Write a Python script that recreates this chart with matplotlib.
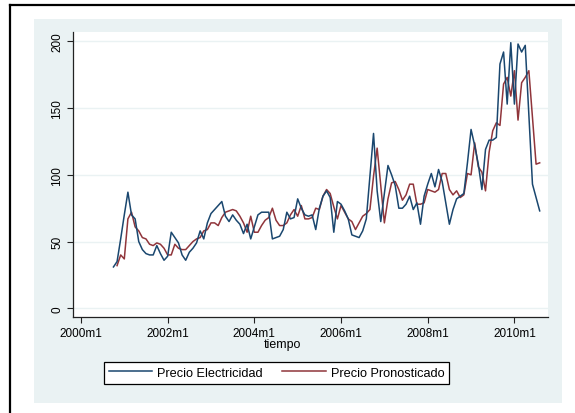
import numpy as np
import pandas as pd
import matplotlib
matplotlib.use("Agg")
import matplotlib.pyplot as plt
from matplotlib.lines import Line2D
from matplotlib.patches import Rectangle

plt.rcParams['font.family'] = ['Liberation Sans', 'DejaVu Sans']

# datos mensuales 2000m10 - 2010m8
inicio = '2000-10'
fin = '2010-08'

precio = [
    31, 35, 52,                                              # 2000
    70, 87, 70, 67, 50, 44, 41, 40, 40, 47, 41, 36,          # 2001
    39, 57, 53, 49, 40, 36, 42, 45, 49, 58, 52, 64,          # 2002
    71, 74, 77, 80, 69, 65, 70, 66, 63, 56, 63, 52,          # 2003
    61, 70, 72, 72, 72, 52, 53, 54, 59, 72, 67, 68,          # 2004
    82, 75, 70, 69, 70, 59, 75, 84, 88, 83, 57, 80,          # 2005
    78, 73, 67, 55, 54, 53, 58, 67, 99, 131, 88, 65,         # 2006
    86, 107, 100, 92, 75, 75, 78, 84, 74, 79, 63, 84,        # 2007
    93, 101, 91, 104, 95, 79, 63, 74, 82, 84, 86, 109,       # 2008
    134, 122, 108, 89, 119, 126, 126, 128, 183, 192, 153, 199,  # 2009
    153, 198, 192, 197, 145, 93, 83, 73,                     # 2010
]

pronostico = [
    np.nan, 32, 40,
    37, 67, 72, 61, 58, 53, 52, 48, 47, 49, 48, 45,
    40, 40, 48, 45, 44, 44, 47, 50, 52, 53, 58, 59,
    64, 64, 62, 68, 72, 73, 74, 73, 69, 64, 57, 69,
    57, 57, 62, 66, 68, 75, 66, 62, 62, 64, 70, 74,
    69, 77, 67, 67, 68, 75, 74, 84, 89, 86, 76, 67,
    77, 72, 67, 65, 59, 64, 69, 71, 74, 99, 120, 92,
    64, 82, 94, 95, 89, 81, 85, 93, 93, 78, 78, 79,
    89, 88, 87, 89, 101, 101, 89, 85, 88, 83, 85, 101,
    100, 124, 106, 102, 88, 117, 133, 139, 137, 168, 173, 159,
    178, 141, 169, 173, 178, 143, 108, 109,
]

etiquetas_x = ['2000m1', '2002m1', '2004m1', '2006m1', '2008m1', '2010m1']
ticks_y = [0, 50, 100, 150, 200]

# meses desde 2000m1 (como %tm de Stata)
periodos = pd.period_range(inicio, fin, freq='M')
tiempo = (periodos.year - 2000) * 12 + (periodos.month - 1)
pos_x = [(int(e[:4]) - 2000) * 12 + int(e.split('m')[1]) - 1 for e in etiquetas_x]

azul = '#1a476f'
rojo = '#90353b'
fondo = '#eaf2f3'

W, H = 575, 414
fig = plt.figure(figsize=(W / 100, H / 100), dpi=100)
fig.patch.set_facecolor('white')

# region del grafico (fondo gris azulado)
fig.add_artist(Rectangle((34 / W, 1 - 404 / H), (562 - 34) / W, (404 - 20) / H,
                         transform=fig.transFigure, facecolor=fondo,
                         edgecolor='none', zorder=0))
# borde negro exterior
fig.add_artist(Line2D([10 / W, 10 / W], [0, 1 - 5.5 / H], transform=fig.transFigure,
                      color='black', lw=1.6))
fig.add_artist(Line2D([10 / W, 1], [1 - 5.5 / H, 1 - 5.5 / H], transform=fig.transFigure,
                      color='black', lw=1.6))

ax = fig.add_axes([73 / W, 1 - 318 / H, (548 - 73) / W, (318 - 33) / H])
ax.set_facecolor('white')

ax.plot(tiempo, precio, color=azul, lw=1.1, label='Precio Electricidad', zorder=3)
ax.plot(tiempo, pronostico, color=rojo, lw=1.1, label='Precio Pronosticado', zorder=2)

ax.set_xlim(-2.2, 129.3)
ax.set_ylim(-6.5, 207)

ax.set_yticks(ticks_y)
ax.set_yticklabels([str(v) for v in ticks_y], rotation=90, va='center', fontsize=8.5)
ax.set_xticks(pos_x)
ax.set_xticklabels(etiquetas_x, fontsize=8.5)

ax.yaxis.grid(True, color=fondo, lw=1.0, zorder=0)
ax.set_axisbelow(True)

for lado in ['top', 'right']:
    ax.spines[lado].set_visible(False)
for lado in ['left', 'bottom']:
    ax.spines[lado].set_color('#222222')
    ax.spines[lado].set_linewidth(0.9)

ax.tick_params(axis='both', direction='out', length=4, width=0.8, color='#222222', pad=3)

ax.set_xlabel('tiempo', fontsize=8.9, labelpad=0)
ax.xaxis.set_label_coords((282 - 73) / (548 - 73), -(345 - 318) / (318 - 33))
ax.xaxis.label.set_va('center')

leg = fig.legend(loc='center', bbox_to_anchor=(276.5 / W, 1 - 373.7 / H), ncol=2,
                 fontsize=9.2, frameon=True, fancybox=False, edgecolor='black',
                 facecolor='white', framealpha=1, handlelength=3.4, handletextpad=0.4,
                 columnspacing=1.5, borderpad=0.4)
leg.get_frame().set_linewidth(0.9)

fig.savefig('out.png', dpi=100)
